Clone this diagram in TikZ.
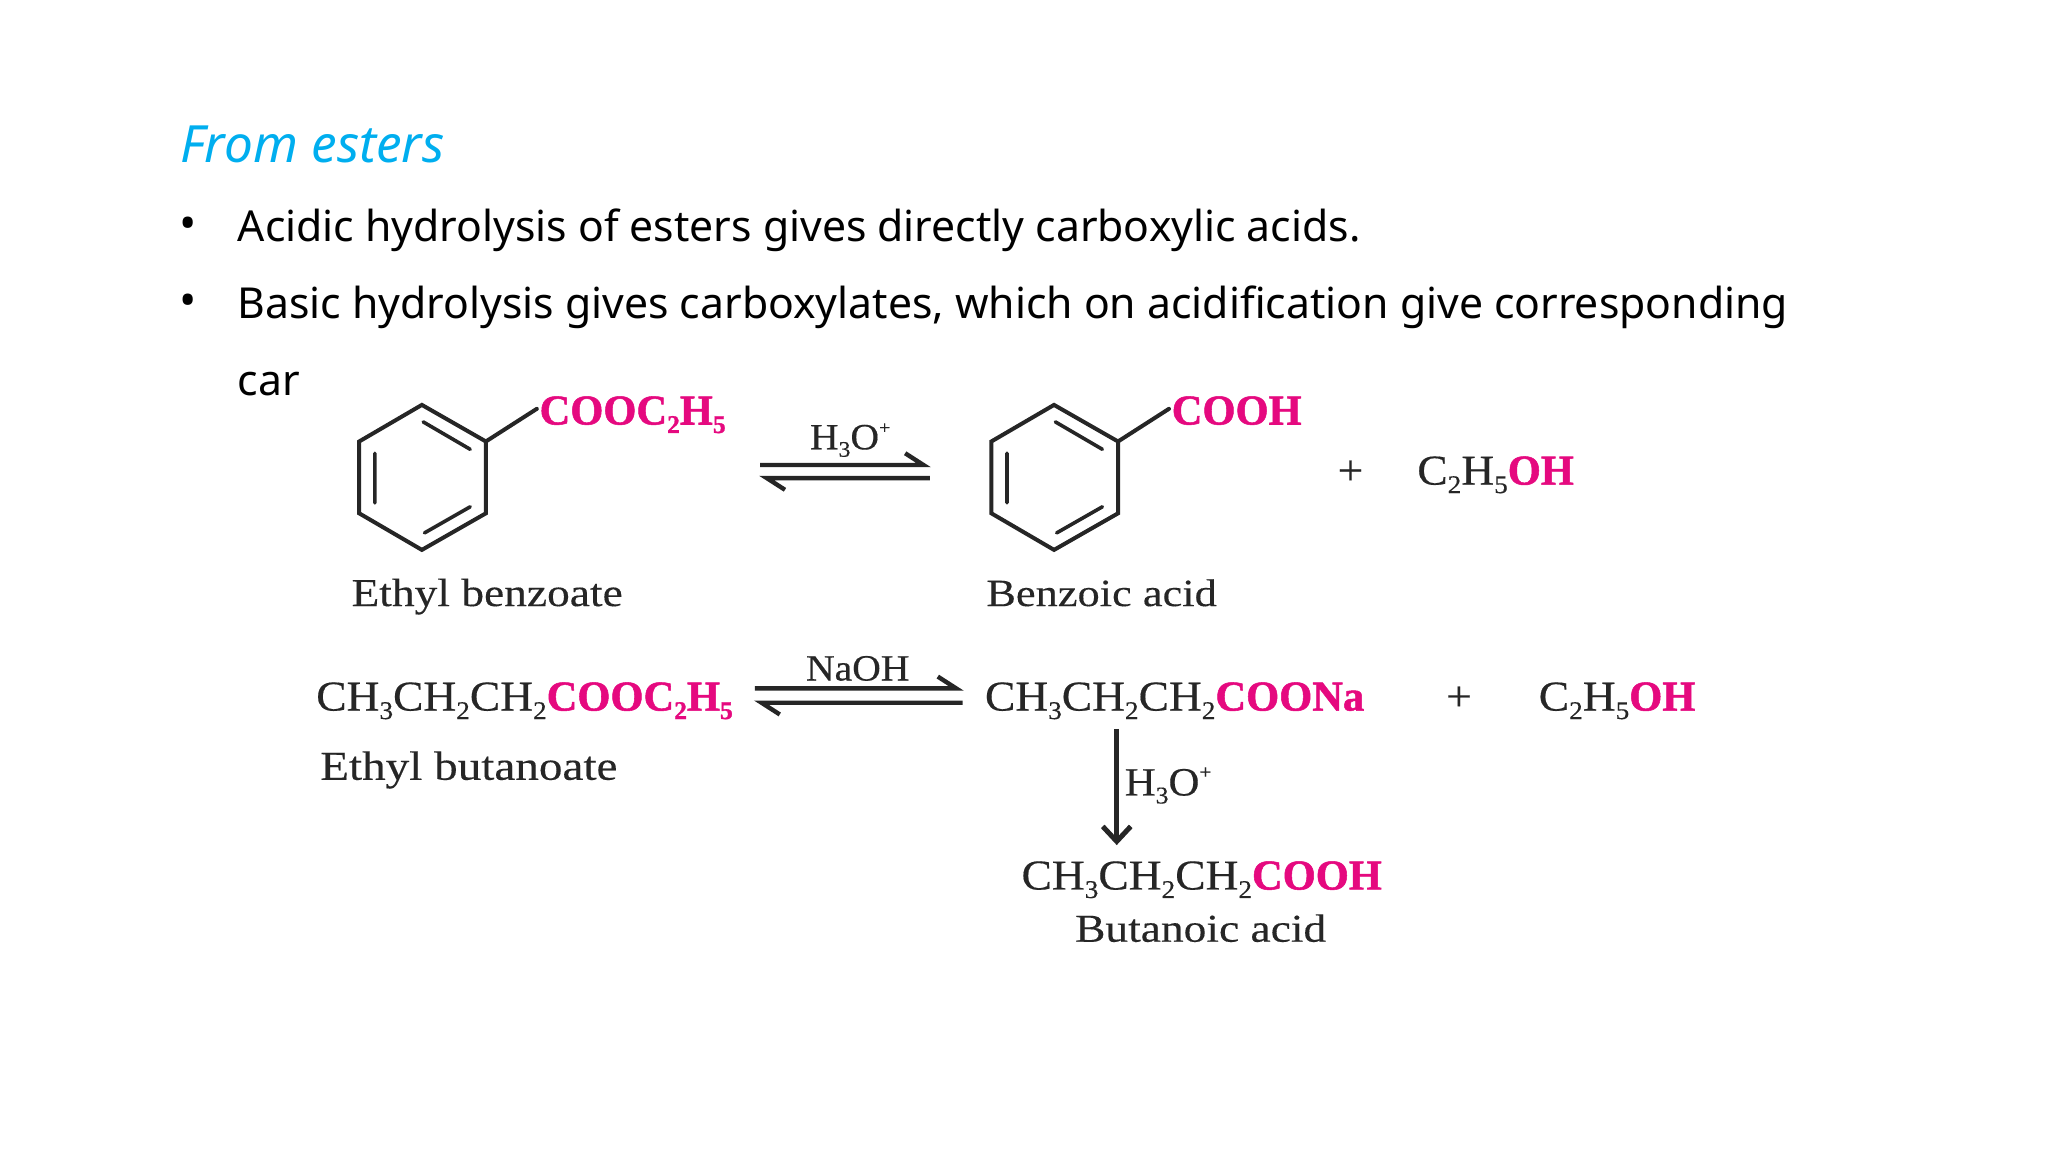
\documentclass[tikz,border=0pt]{standalone}
\usepackage{fontspec}
\usepackage{graphicx}
\setsansfont{Noto Sans}
\newfontfamily\chemrm[FakeStretch=1.07,FakeBold=0.4,BoldFeatures={FakeStretch=1.0,FakeBold=1.2}]{Liberation Serif}
\newfontfamily\namerm[FakeStretch=1.15,FakeBold=0.3]{Liberation Serif}
\usetikzlibrary{arrows.meta}
\definecolor{titleblue}{HTML}{00AEEF}
\definecolor{chempink}{HTML}{E5097F}
\definecolor{chemink}{HTML}{262626}
\newcommand{\pk}[1]{{\bfseries\color{chempink}#1}}
\newcommand{\sbb}[1]{\raisebox{-.2em}{\scalebox{.6}{#1}}}
\newcommand{\spp}[1]{\raisebox{.42em}{\scalebox{.5}{#1}}}
\tikzset{
  x=1.30612pt,y=-1.30612pt,
  slide/.style={anchor=base west,inner sep=0pt,outer sep=0pt,text=black,font=\sffamily\fontsize{42.7}{42.7}\selectfont},
  slidetitle/.style={anchor=base west,inner sep=0pt,text=titleblue,font=\sffamily\itshape\fontsize{51.3}{51.3}\selectfont},
  bulletmark/.style={anchor=center,inner sep=0pt,text=black,font=\sffamily\fontsize{46}{46}\selectfont},
  chem/.style={anchor=base west,inner sep=0pt,text=chemink,font=\chemrm\fontsize{42.5}{42.5}\selectfont},
  chemname/.style={anchor=base west,inner sep=0pt,text=chemink,font=\namerm\fontsize{39.5}{39.5}\selectfont},
  reagent/.style={anchor=base west,inner sep=0pt,text=chemink,font=\chemrm\fontsize{37}{37}\selectfont},
  bond/.style={draw=chemink,line width=4pt,line cap=round,line join=miter},
  innerbond/.style={draw=chemink,line width=3.6pt,line cap=round},
  eqline/.style={draw=chemink,line width=4.4pt,line cap=butt,line join=miter},
  downarrow/.style={draw=chemink,line width=5pt,-{Straight Barb[length=15pt,width=28pt,line width=5pt]}}
}
\begin{document}
\begin{tikzpicture}
\useasboundingbox (0,0) rectangle (1568,882);
% slide text
\node[slidetitle] (title) at (138,124.5) {From esters};
\node[bulletmark] (b1) at (144,175) {•};
\node[slide] (l1) at (182,185) {Acidic hydrolysis of esters gives directly carboxylic acids.};
\node[bulletmark] (b2) at (144,234) {•};
\node[slide] (l2) at (182,244) {Basic hydrolysis gives carboxylates, which on acidification give corresponding};
\node[slide] (l3) at (182,303) {car};
% benzene 1
\coordinate (a1) at (323,310);\coordinate (a2) at (372,338);\coordinate (a3) at (372,393);
\coordinate (a4) at (323,421);\coordinate (a5) at (275,393);\coordinate (a6) at (275,338);
\draw[bond] (a1)--(a2)--(a3)--(a4)--(a5)--(a6)--cycle;
\draw[innerbond] (324,323)--(360,344) (287,347)--(287,385) (325,408)--(360,388);
\coordinate (a7) at (411,313);
\draw[bond] (a2)--(a7);
\node[chem] (est) at (413,325) {\pk{COOC\sbb{2}H\sbb{5}}};
% equilibrium 1
\node[reagent] (r1) at (620,344) {H\sbb{3}O\spp{+}};
\coordinate (e1a) at (582,356);\coordinate (e1b) at (707,356);\coordinate (e1c) at (693,347);
\coordinate (e1d) at (712,366);\coordinate (e1e) at (587,366);\coordinate (e1f) at (601,375);
\draw[eqline] (e1a)--(e1b)--(e1c);
\draw[eqline] (e1d)--(e1e)--(e1f);
% benzene 2
\coordinate (c1) at (807,310);\coordinate (c2) at (856,338);\coordinate (c3) at (856,393);
\coordinate (c4) at (807,421);\coordinate (c5) at (759,393);\coordinate (c6) at (759,338);
\draw[bond] (c1)--(c2)--(c3)--(c4)--(c5)--(c6)--cycle;
\draw[innerbond] (808,323)--(844,344) (771,347)--(771,385) (809,408)--(844,388);
\coordinate (c7) at (895,313);
\draw[bond] (c2)--(c7);
\node[chem] (acid) at (897,325) {\pk{COOH}};
\node[chem] (plus1) at (1024,371) {+};
\node[chem] (etoh1) at (1085,371) {C\sbb{2}H\sbb{5}\pk{OH}};
\node[chemname] (n1) at (269,464) {Ethyl benzoate};
\node[chemname,font=\namerm\fontsize{38.6}{38.6}\selectfont] (n2) at (755,464) {Benzoic acid};
% second reaction
\node[chem] (butest) at (242,544) {CH\sbb{3}CH\sbb{2}CH\sbb{2}\pk{COOC\sbb{2}H\sbb{5}}};
\node[reagent] (r2) at (617,521) {NaOH};
\coordinate (e2a) at (578,527);\coordinate (e2b) at (732,527);\coordinate (e2c) at (718,518);
\coordinate (e2d) at (737,538);\coordinate (e2e) at (583,538);\coordinate (e2f) at (597,547);
\draw[eqline] (e2a)--(e2b)--(e2c);
\draw[eqline] (e2d)--(e2e)--(e2f);
\node[chem] (na) at (754,544) {CH\sbb{3}CH\sbb{2}CH\sbb{2}\pk{COONa}};
\node[chem] (plus2) at (1107,544) {+};
\node[chem] (etoh2) at (1178,544) {C\sbb{2}H\sbb{5}\pk{OH}};
\node[chemname,font=\namerm\fontsize{41}{41}\selectfont] (n3) at (245,597) {Ethyl butanoate};
\coordinate (v1) at (855,558);\coordinate (v2) at (855,647);
\draw[downarrow] (v1)--(v2);
\node[reagent,font=\chemrm\fontsize{40}{40}\selectfont] (r3) at (861,609) {H\sbb{3}O\spp{+}};
\node[chem] (but) at (782,681) {CH\sbb{3}CH\sbb{2}CH\sbb{2}\pk{COOH}};
\node[chemname] (n4) at (823,721) {Butanoic acid};
\end{tikzpicture}
\end{document}
